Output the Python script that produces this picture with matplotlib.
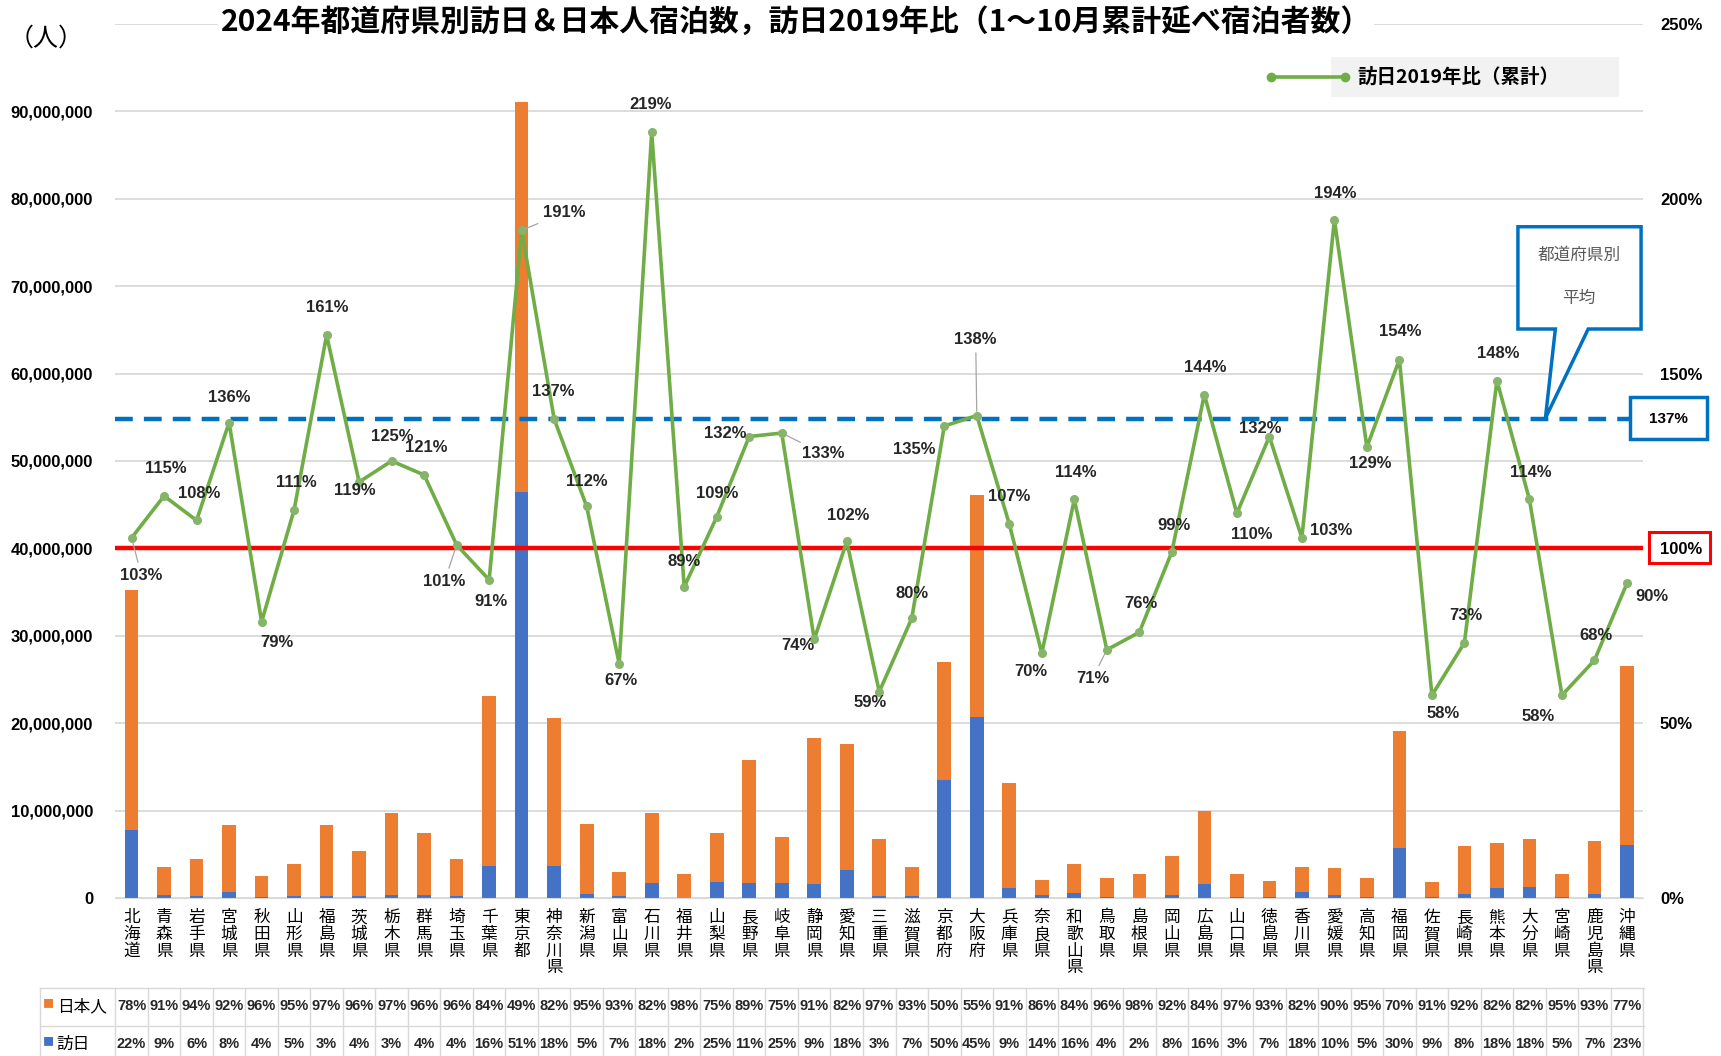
import matplotlib
matplotlib.use('Agg')
import matplotlib.pyplot as plt
import matplotlib.transforms as mtransforms
from matplotlib.patches import Polygon, Rectangle
from matplotlib.lines import Line2D
from matplotlib import font_manager
import numpy as np

# data
prefs = ['北海道', '青森県', '岩手県', '宮城県', '秋田県', '山形県', '福島県', '茨城県', '栃木県', '群馬県',
         '埼玉県', '千葉県', '東京都', '神奈川県', '新潟県', '富山県', '石川県', '福井県', '山梨県', '長野県',
         '岐阜県', '静岡県', '愛知県', '三重県', '滋賀県', '京都府', '大阪府', '兵庫県', '奈良県', '和歌山県',
         '鳥取県', '島根県', '岡山県', '広島県', '山口県', '徳島県', '香川県', '愛媛県', '高知県', '福岡県',
         '佐賀県', '長崎県', '熊本県', '大分県', '宮崎県', '鹿児島県', '沖縄県']
total_m = [35.2, 3.6, 4.5, 8.3, 2.5, 3.9, 8.3, 5.4, 9.7, 7.4,
           4.5, 23.1, 91.1, 20.6, 8.5, 3.0, 9.7, 2.8, 7.4, 15.8,
           7.0, 18.3, 17.6, 6.8, 3.6, 27.0, 46.1, 13.2, 2.1, 3.9,
           2.3, 2.8, 4.8, 10.0, 2.8, 2.0, 3.6, 3.4, 2.3, 19.1,
           1.8, 5.9, 6.3, 6.8, 2.8, 6.5, 26.6]
jp_pct = [78, 91, 94, 92, 96, 95, 97, 96, 97, 96, 96, 84, 49, 82, 95, 93, 82, 98, 75, 89,
          75, 91, 82, 97, 93, 50, 55, 91, 86, 84, 96, 98, 92, 84, 97, 93, 82, 90, 95, 70,
          91, 92, 82, 82, 95, 93, 77]
fo_pct = [22, 9, 6, 8, 4, 5, 3, 4, 3, 4, 4, 16, 51, 18, 5, 7, 18, 2, 25, 11,
          25, 9, 18, 3, 7, 50, 45, 9, 14, 16, 4, 2, 8, 16, 3, 7, 18, 10, 5, 30,
          9, 8, 18, 18, 5, 7, 23]
ratio_2019 = [103, 115, 108, 136, 79, 111, 161, 119, 125, 121, 101, 91, 191, 137, 112, 67, 219, 89, 109, 132,
              133, 74, 102, 59, 80, 135, 138, 107, 70, 114, 71, 76, 99, 144, 110, 132, 103, 194, 129, 154,
              58, 73, 148, 114, 58, 68, 90]
avg_ratio = 137

# label offsets (px, right / down) and which ones get a leader line
label_off = [(9, 34), (2, -25), (2, -25), (0, -23), (14, 19), (2, -25), (1, -25), (-4, 8), (1, -22), (2, -25),
             (-11, 33), (2, 20), (39, -16), (-1, -25), (0, -23), (2, 15), (-1, -25), (0, -23), (0, -21), (-22, -3),
             (38, 19), (-15, 6), (1, -24), (-8, 10), (0, -23), (-27, 21), (-1, -69), (0, -25), (-10, 17), (1, -25),
             (-13, 26), (1, -26), (2, -24), (1, -25), (14, 19), (-8, -7), (27, -7), (1, -24), (3, 15), (1, -26),
             (10, 17), (1, -25), (1, -25), (1, -25), (-22, 19), (1, -23), (23, 12)]
leaders = [0, 10, 12, 20, 26, 30]

names = {f.name for f in font_manager.fontManager.ttflist}
NUM = 'Liberation Sans Narrow' if 'Liberation Sans Narrow' in names else 'Liberation Sans'
JP = 'Noto Sans CJK JP'
plt.rcParams['font.family'] = [NUM, JP, 'DejaVu Sans']

ORANGE = '#ed7d31'
BLUE = '#4472c4'
GREEN = '#70ad47'

x = np.arange(len(prefs))
total = np.array(total_m) * 1e6
fo_share = np.array(fo_pct) / (np.array(fo_pct) + np.array(jp_pct))
foreign = total * fo_share
japanese = total - foreign

fig = plt.figure(figsize=(17.21, 10.56), dpi=100)
ax = fig.add_axes([0.067, 0.1496, 0.8878, 0.8277])
ax2 = ax.twinx()

ax.bar(x, foreign, width=0.42, color=BLUE, zorder=2)
ax.bar(x, japanese, bottom=foreign, width=0.42, color=ORANGE, zorder=2)
ax.set_xlim(-0.5, len(prefs) - 0.5)
ax.set_ylim(0, 100e6)
ax.set_yticks(np.arange(0, 100e6 + 1, 10e6))
ax.set_yticklabels([f'{int(v):,}' for v in np.arange(0, 90e6 + 1, 10e6)] + [''])
ax.yaxis.grid(True, color='#d9d9d9', lw=1.3, zorder=0)
ax.set_axisbelow(True)
ax.set_xticks([])
for s in ['top', 'right', 'left']:
    ax.spines[s].set_visible(False)
ax.spines['bottom'].set_color('#d9d9d9')
ax.tick_params(axis='y', length=0, labelsize=12, pad=16)
for t in ax.get_yticklabels():
    t.set_fontweight('bold')

# ratio line
ax2.axhline(100, color='red', lw=3.2, zorder=3)
ax2.axhline(avg_ratio, color='#0070c0', lw=3.2, ls=(0, (4, 2.5)), zorder=3)
ax2.plot(x, ratio_2019, color=GREEN, lw=2.6, marker='o', ms=5.5, mfc='#86b46a', mec='#86b46a', zorder=4)
ax2.set_ylim(0, 250)
ax2.set_yticks(np.arange(0, 251, 50))
ax2.set_yticklabels([f'{v}%' for v in range(0, 251, 50)])
ax2.tick_params(axis='y', length=0, labelsize=12, pad=12)
for t in ax2.get_yticklabels():
    t.set_fontweight('bold')
for s in ax2.spines.values():
    s.set_visible(False)

k = 0.79
for i, v in enumerate(ratio_2019):
    dx, dy = label_off[i]
    ap = dict(arrowstyle='-', color='#a6a6a6', lw=0.9, shrinkA=2, shrinkB=3) if i in leaders else None
    ax2.annotate(f'{v}%', (x[i], v), xytext=(dx * k, -dy * k), textcoords='offset points',
                 ha='center', va='center', fontsize=12, fontweight='bold', color='#262626',
                 arrowprops=ap, zorder=5)

# value boxes on right
ax2.add_patch(Rectangle((0.9914, 0.5251), 0.0503, 0.0478, transform=ax2.transAxes, fill=True,
                        fc='white', ec='#0070c0', lw=2.5, clip_on=False, zorder=6))
ax2.text(1.0165, avg_ratio / 250, f'{avg_ratio}%', transform=ax2.transAxes, ha='center', va='center',
         fontsize=11, fontweight='bold', zorder=7)
ax2.add_patch(Rectangle((1.0036, 0.3832), 0.0402, 0.0351, transform=ax2.transAxes, fill=False,
                        ec='red', lw=2.2, clip_on=False, zorder=6))

# callout
callout = Polygon([(0.918, 0.768), (0.9986, 0.768), (0.9986, 0.651), (0.964, 0.651),
                   (0.936, 0.549), (0.9425, 0.651), (0.918, 0.651)],
                  closed=True, transform=ax2.transAxes, fc='white', ec='#0070c0', lw=2.5,
                  clip_on=False, zorder=6)
ax2.add_patch(callout)
ax2.text(0.958, 0.735, '都道府県別', transform=ax2.transAxes, ha='center', va='center',
         fontsize=12, color='#595959', family=[JP], zorder=7)
ax2.text(0.958, 0.686, '平均', transform=ax2.transAxes, ha='center', va='center',
         fontsize=12, color='#595959', family=[JP], zorder=7)

# title, unit, legend
fig.text(0.4625, 0.979, '2024年都道府県別訪日＆日本人宿泊数，訪日2019年比（1～10月累計延べ宿泊者数）',
         ha='center', va='center', fontsize=21.5, fontweight='bold', family=[JP, 'DejaVu Sans'],
         bbox=dict(fc='white', ec='none', pad=2))
fig.text(0.005, 0.963, '（人）', ha='left', va='center', fontsize=18, family=[JP])
fig.patches.append(Rectangle((0.7735, 0.9085), 0.1673, 0.0375, transform=fig.transFigure,
                             fc='#f2f2f2', ec='none', zorder=1))
fig.lines.append(Line2D([0.7386, 0.7813], [0.927, 0.927], transform=fig.transFigure, color=GREEN,
                        lw=2.6, marker='o', ms=6, zorder=2))
fig.text(0.789, 0.927, '訪日2019年比（累計）', ha='left', va='center', fontsize=14, fontweight='bold',
         family=[JP])

# category labels and data table
tr = mtransforms.blended_transform_factory(ax.transData, fig.transFigure)
for i, p in enumerate(prefs):
    ax.text(i, 0.139, '\n'.join(p), transform=tr, ha='center', va='top', fontsize=12,
            linespacing=0.98, family=[JP], clip_on=False)
    ax.text(i, 0.047, f'{jp_pct[i]}%', transform=tr, ha='center', va='center', fontsize=10.5,
            fontweight='bold', color='#262626', clip_on=False)
    ax.text(i, 0.011, f'{fo_pct[i]}%', transform=tr, ha='center', va='center', fontsize=10.5,
            fontweight='bold', color='#262626', clip_on=False)

grid_c = '#d9d9d9'
for yy in [0.0644, 0.028]:
    fig.lines.append(Line2D([0.023, 0.955], [yy, yy], transform=fig.transFigure, color=grid_c, lw=1))
for i in range(len(prefs) + 1):
    xf = fig.transFigure.inverted().transform(ax.transData.transform((i - 0.5, 0)))[0]
    fig.lines.append(Line2D([xf, xf], [0.0, 0.0644], transform=fig.transFigure, color=grid_c, lw=1))
fig.lines.append(Line2D([0.023, 0.023], [0.0, 0.0644], transform=fig.transFigure, color=grid_c, lw=1))

fig.text(0.025, 0.049, '■', color=ORANGE, fontsize=8, va='center', family=[JP])
fig.text(0.033, 0.047, '日本人', fontsize=12, va='center', family=[JP])
fig.text(0.025, 0.013, '■', color=BLUE, fontsize=8, va='center', family=[JP])
fig.text(0.033, 0.011, '訪日', fontsize=12, va='center', family=[JP])

fig.savefig('out.png', dpi=100)
